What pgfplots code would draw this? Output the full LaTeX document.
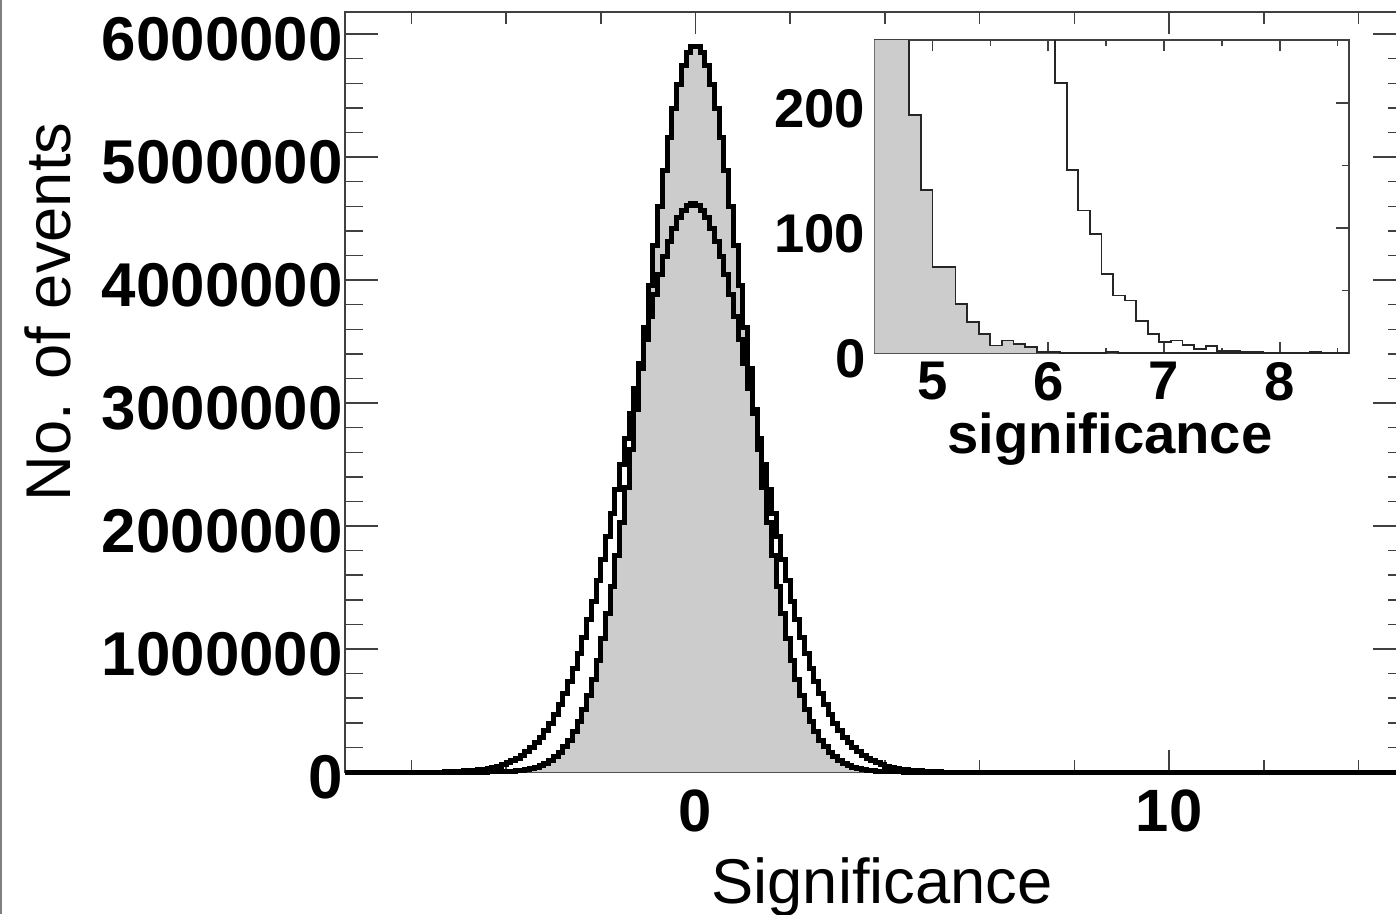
\documentclass[border=0pt]{standalone}
\usepackage{fontspec}
\setmainfont{Liberation Sans}
\usepackage{pgfplots}
\usepackage{pgfplotstable}
\pgfplotsset{compat=1.18}
\definecolor{histgrey}{gray}{0.8}
\definecolor{axgrey}{gray}{0.25}

\pgfplotstableread{
x y
-7.4 0
-4.4 1300
-4.3 1900
-4.2 2800
-4.1 4000
-4.0 5700
-3.9 8100
-3.8 11300
-3.7 15700
-3.6 21700
-3.5 29600
-3.4 40000
-3.3 53700
-3.2 71400
-3.1 94100
-3.0 122900
-2.9 159000
-2.8 204000
-2.7 259500
-2.6 327100
-2.5 408600
-2.4 505900
-2.3 620900
-2.2 755100
-2.1 910200
-2.0 1088000
-1.9 1288000
-1.8 1512000
-1.7 1759000
-1.6 2028000
-1.5 2317000
-1.4 2625000
-1.3 2947000
-1.2 3279000
-1.1 3616000
-1.0 3953000
-0.9 4283000
-0.8 4599000
-0.7 4894000
-0.6 5163000
-0.5 5398000
-0.4 5593000
-0.3 5745000
-0.2 5848000
-0.1 5900000
0.0 5900000
0.1 5848000
0.2 5745000
0.3 5593000
0.4 5398000
0.5 5163000
0.6 4894000
0.7 4599000
0.8 4283000
0.9 3953000
1.0 3616000
1.1 3279000
1.2 2947000
1.3 2625000
1.4 2317000
1.5 2028000
1.6 1759000
1.7 1512000
1.8 1288000
1.9 1088000
2.0 910200
2.1 755100
2.2 620900
2.3 505900
2.4 408600
2.5 327100
2.6 259500
2.7 204000
2.8 159000
2.9 122900
3.0 94100
3.1 71400
3.2 53700
3.3 40000
3.4 29600
3.5 21700
3.6 15700
3.7 11300
3.8 8100
3.9 5700
4.0 4000
4.1 2800
4.2 1900
4.3 1300
4.4 0
15 0
}\narrowtab

\pgfplotstableread{
x y
-7.4 0
-5.3 2900
-5.2 3900
-5.1 5100
-5.0 6700
-4.9 8700
-4.8 11300
-4.7 14500
-4.6 18600
-4.5 23700
-4.4 30100
-4.3 37900
-4.2 47500
-4.1 59200
-4.0 73400
-3.9 90500
-3.8 111000
-3.7 135500
-3.6 164400
-3.5 198300
-3.4 238000
-3.3 284100
-3.2 337300
-3.1 398200
-3.0 467600
-2.9 546200
-2.8 634500
-2.7 733100
-2.6 842300
-2.5 962500
-2.4 1094000
-2.3 1237000
-2.2 1390000
-2.1 1554000
-2.0 1729000
-1.9 1912000
-1.8 2103000
-1.7 2301000
-1.6 2503000
-1.5 2709000
-1.4 2916000
-1.3 3121000
-1.2 3323000
-1.1 3519000
-1.0 3706000
-0.9 3881000
-0.8 4043000
-0.7 4189000
-0.6 4316000
-0.5 4423000
-0.4 4508000
-0.3 4570000
-0.2 4607000
-0.1 4620000
0.0 4607000
0.1 4570000
0.2 4508000
0.3 4423000
0.4 4316000
0.5 4189000
0.6 4043000
0.7 3881000
0.8 3706000
0.9 3519000
1.0 3323000
1.1 3121000
1.2 2916000
1.3 2709000
1.4 2503000
1.5 2301000
1.6 2103000
1.7 1912000
1.8 1729000
1.9 1554000
2.0 1390000
2.1 1237000
2.2 1094000
2.3 962500
2.4 842300
2.5 733100
2.6 634500
2.7 546200
2.8 467600
2.9 398200
3.0 337300
3.1 284100
3.2 238000
3.3 198300
3.4 164400
3.5 135500
3.6 111000
3.7 90500
3.8 73400
3.9 59200
4.0 47500
4.1 37900
4.2 30100
4.3 23700
4.4 18600
4.5 14500
4.6 11300
4.7 8700
4.8 6700
4.9 5100
5.0 3900
5.1 2900
5.2 0
15 0
}\widetab

\pgfplotstableread{
x y
4.5 560
4.6 400
4.7 270
4.8 190
4.9 130
5.0 69
5.1 69
5.2 39
5.3 25
5.4 15
5.5 6
5.6 10
5.7 7
5.8 5
5.9 1
6.0 1
6.1 0
6.5 1
6.6 0
8.6 0
}\insetgrey

\pgfplotstableread{
x y
5.56 800
5.66 600
5.76 450
5.86 340
5.96 270
6.06 216
6.16 146
6.26 114
6.36 95
6.46 63
6.56 46
6.66 42
6.76 25.5
6.86 15
6.96 8.5
7.06 10
7.16 6.4
7.26 3.2
7.36 5.6
7.46 1.8
7.56 1.8
7.66 1
7.76 1
7.86 0
8.26 1
8.36 0
8.6 0
}\insetwhite

\begin{document}
\begin{tikzpicture}
\draw[gray, line width=0.2mm] (0.1mm,0) -- (0.1mm,91.4mm);
\begin{axis}[
  at={(34.5mm,14.2mm)}, anchor=south west, scale only axis,
  width=106.1mm, height=76mm,
  xmin=-7.4, xmax=15, ymin=0, ymax=6180000,
  clip=false,
  xtick={0,10}, xticklabels={0,10},
  minor xtick={-6,-4,-2,2,4,6,8,12,14},
  ytick={0,1000000,2000000,3000000,4000000,5000000,6000000},
  yticklabels={0,1000000,2000000,3000000,4000000,5000000,6000000},
  minor y tick num=4,
  scaled y ticks=false, scaled x ticks=false,
  tick align=inside, tick pos=both,
  xtick style={/pgfplots/major tick length=2.2mm, /pgfplots/minor tick length=1.2mm},
  ytick style={/pgfplots/major tick length=3.3mm, /pgfplots/minor tick length=1.8mm},
  axis line style={line width=0.2mm, axgrey},
  every tick/.append style={line width=0.15mm, axgrey},
  xticklabel style={font=\fontsize{17}{17}\selectfont\bfseries, inner sep=0pt, yshift=-1.7mm},
  yticklabel style={font=\fontsize{17.6}{17.6}\selectfont\bfseries, inner sep=0pt, xshift=-0.15mm, yshift=-0.5mm},
]
\addplot[const plot mark left, fill=histgrey, draw=none] table[x=x,y=y] {\narrowtab} \closedcycle;
\addplot[const plot mark left, black, line width=0.5mm] table[x=x,y=y] {\widetab};
\addplot[const plot mark left, black, line width=0.5mm] table[x=x,y=y] {\narrowtab};
\end{axis}

\begin{axis}[
  at={(87.45mm,56.1mm)}, anchor=south west, scale only axis,
  width=47.48mm, height=31.27mm,
  xmin=4.5, xmax=8.6, ymin=0, ymax=250,
  axis background/.style={fill=white},
  xtick={5,6,7,8}, xticklabels={5,6,7,8},
  minor xtick={4.5,5.5,6.5,7.5,8.5},
  ytick={0,100,200}, yticklabels={0,100,200},
  minor ytick={50,150},
  tick align=inside, tick pos=both,
  xtick style={/pgfplots/major tick length=1.1mm, /pgfplots/minor tick length=0.55mm},
  ytick style={/pgfplots/major tick length=1.35mm, /pgfplots/minor tick length=0.7mm},
  axis line style={line width=0.2mm, axgrey},
  every tick/.append style={line width=0.15mm, axgrey},
  ticklabel style={font=\fontsize{15.5}{15.5}\selectfont\bfseries},
  yticklabel style={inner sep=0pt, xshift=-0.85mm, yshift=-0.6mm},
  xticklabel style={inner sep=0pt, yshift=-0.85mm},
]
\addplot[const plot mark left, fill=histgrey, draw=none] table[x=x,y=y] {\insetgrey} \closedcycle;
\addplot[const plot mark left, black!85, line width=0.18mm] table[x=x,y=y] {\insetgrey};
\addplot[const plot mark left, black!85, line width=0.18mm] table[x=x,y=y] {\insetwhite};
\end{axis}

\node[anchor=base, font=\fontsize{16}{16}\selectfont\bfseries] at (111.0mm,46.1mm) {significance};
\node[anchor=base, font=\fontsize{18}{18}\selectfont] at (88.2mm,1.1mm) {Significance};
\node[anchor=base, rotate=90, font=\fontsize{18}{18}\selectfont] at (7.0mm,60.2mm) {No. of events};

\pgfresetboundingbox
\useasboundingbox (0,0) rectangle (139.6mm,91.4mm);
\end{tikzpicture}
\end{document}
